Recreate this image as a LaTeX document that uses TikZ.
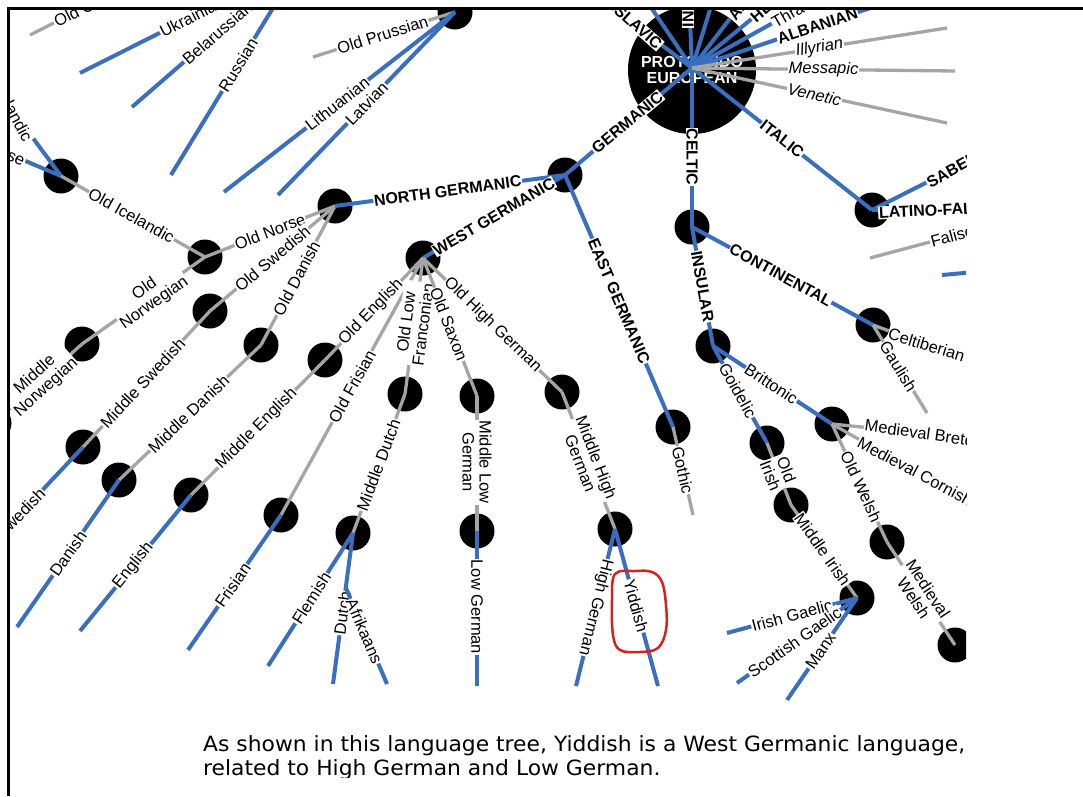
\documentclass[tikz,border=0pt]{standalone}
\usepackage{fontspec}
\setmainfont{Liberation Sans}
\newfontfamily\capfam{DejaVu Sans}
\definecolor{lnblue}{RGB}{58,110,190}
\definecolor{lngray}{RGB}{165,165,165}
\definecolor{loopred}{RGB}{210,35,35}
\newsavebox\capboxA
\newlength\capwA
\tikzset{
  dot/.style={circle,fill=black,minimum size=35pt,inner sep=0pt},
  bl/.style={draw=lnblue,line width=4pt},
  gl/.style={draw=lngray,line width=3.3pt},
  lab/.style={fill=white,inner sep=0.8pt,text=black,font=\fontsize{16.5}{17}\selectfont},
  blab/.style={fill=white,inner sep=0.8pt,text=black,font=\fontsize{16}{17}\selectfont\bfseries},
  ilab/.style={lab,font=\fontsize{16.5}{17}\selectfont\itshape},
  twol/.style={lab,align=center},
}
\begin{document}
\sbox\capboxA{\capfam\fontsize{21}{24}\selectfont As shown in this language tree, Yiddish is a West Germanic language,}
\setlength\capwA{\wd\capboxA}
\pgfmathsetmacro\capsx{762/\capwA}
\begin{tikzpicture}[x=1pt,y=-1pt]
\useasboundingbox (0,0) rectangle (1083,796);
\fill[white] (0,0) rectangle (1083,796);
\begin{scope}
\clip (9.5,9.5) rectangle (966,700);
% ---------- circles
\node[dot,minimum size=128pt,align=center,text=white,font=\fontsize{16}{16}\selectfont\bfseries] (pie) at (692,70) {PROTO-INDO\\EUROPEAN};
\coordinate (hub) at (692,68);
\node[dot] (balt) at (455,12) {};
\node[dot] (icel) at (61,176) {};
\node[dot] (onor) at (205,257) {};
\node[dot] (ng) at (335,206) {};
\node[dot] (ge) at (565,175) {};
\node[dot] (wg) at (423,258) {};
\node[dot] (got) at (673,427) {};
\node[dot] (cel) at (692,227) {};
\node[dot] (con) at (873,325) {};
\node[dot] (ins) at (713,346) {};
\node[dot] (bry) at (832,424) {};
\node[dot] (oir) at (767,443) {};
\node[dot] (mir) at (791,505) {};
\node[dot] (gae) at (857,598) {};
\node[dot] (mwe) at (887,542) {};
\node[dot] (wel) at (955,645) {};
\node[dot] (lat) at (872,210) {};
\node[dot] (mno) at (82,344) {};
\node[dot] (nor) at (-6,423) {};
\node[dot] (mse) at (210,311) {};
\node[dot] (swe) at (83,447) {};
\node[dot] (mda) at (261,345) {};
\node[dot] (dan) at (119,480) {};
\node[dot] (men) at (325,360) {};
\node[dot] (eng) at (191,495) {};
\node[dot] (fri) at (281,515) {};
\node[dot] (mdu) at (405,394) {};
\node[dot] (dut) at (353,533) {};
\node[dot] (mlg) at (477,396) {};
\node[dot] (lg) at (477,531) {};
\node[dot] (mhg) at (562,392) {};
\node[dot] (hg) at (615,529) {};
% ---------- free ends
\coordinate (ocsA) at (30,35);
\coordinate (ukA) at (80,73);
\coordinate (beA) at (132,107);
\coordinate (ruA) at (171,175);
\coordinate (ruB) at (276,3);
\coordinate (opA) at (313,57);
\coordinate (liA) at (224,192);
\coordinate (laA) at (278,195);
\coordinate (daA) at (17,627);
\coordinate (enA) at (80,631);
\coordinate (frA) at (188,650);
\coordinate (flA) at (268,666);
\coordinate (dtA) at (333,684);
\coordinate (afB) at (346,588);
\coordinate (afA) at (387,684);
\coordinate (lgA) at (477,686);
\coordinate (hgA) at (576,686);
\coordinate (yiA) at (658,686);
\coordinate (goA) at (693,515);
\coordinate (gaA) at (927,413);
\coordinate (igA) at (727,633);
\coordinate (sgA) at (737,683);
\coordinate (mxA) at (787,700);
\coordinate (faA) at (870,258);
\coordinate (osA) at (942,275);
\coordinate (osB) at (975,272);
\coordinate (slA) at (596,-5);
\coordinate (baA) at (646,0);
\coordinate (t1A) at (713,0);
\coordinate (alA) at (888,2);
\coordinate (ilA) at (947,28);
\coordinate (meA) at (955,71);
\coordinate (veA) at (947,123);
% ---------- Balto-Slavic
\node[lab,anchor=west,rotate=27] (ocs) at (54,23) {Old Church Slavonic};
\draw[gl] (ocsA) -- (ocs);
\node[lab,anchor=west,rotate=27] (ukr) at (160,33) {Ukrainian};
\draw[bl] (ukA) -- (ukr);
\node[lab,anchor=west,rotate=41] (bel) at (184,62) {Belarussian};
\draw[bl] (beA) -- (bel);
\draw[bl] (ruA) -- node[lab,pos=.64,rotate=58.6]{Russian} (ruB);
\draw[gl] (opA) -- node[lab,pos=.49,rotate=17.6]{Old Prussian} (balt.center);
\draw[bl] (liA) -- node[lab,pos=.49,rotate=38]{Lithuanian} (balt.center);
\draw[bl] (laA) -- node[lab,pos=.5,rotate=46]{Latvian} (balt.center);
% ---------- North Germanic
\node[lab,anchor=east,rotate=-62] (isl) at (29,141) {Icelandic};
\draw[bl] (isl) -- (icel.center);
\node[lab,anchor=east,rotate=-25] (far) at (25,162) {Faroese};
\draw[bl] (far) -- (icel.center);
\draw[gl] (icel.center) -- node[lab,pos=.49,rotate=-29]{Old Icelandic} (onor.center);
\draw[gl] (onor.center) -- node[lab,pos=.5,rotate=21]{Old Norse} (ng.center);
\draw[gl] (onor.center) -- node[twol,pos=.45,rotate=35]{Old\\Norwegian} (mno.center);
\draw[gl] (mno.center) -- node[twol,pos=.47,rotate=42]{Middle\\Norwegian} (nor.center);
\draw[gl] (ng.center) -- node[lab,pos=.5,rotate=40]{Old Swedish} (mse.center);
\draw[gl] (mse.center) -- node[lab,pos=.53,rotate=47]{Middle Swedish} (swe.center);
\node[lab,anchor=east,rotate=46] (swl) at (43,490) {Swedish};
\draw[bl] (swe.center) -- (swl);
\draw[gl] (ng.center) -- node[lab,pos=.52,rotate=62]{Old Danish} (mda.center);
\draw[gl] (mda.center) -- node[lab,pos=.51,rotate=43.6]{Middle Danish} (dan.center);
\draw[bl] (dan.center) -- node[lab,pos=.5,rotate=55]{Danish} (daA);
% ---------- Germanic
\draw[bl] (ng.center) -- node[blab,pos=.49,rotate=7.7]{NORTH GERMANIC} (ge.center);
\draw[bl] (wg.center) -- node[blab,pos=.5,rotate=30.3]{WEST GERMANIC} (ge.center);
\draw[bl] (ge.center) -- node[blab,pos=.49,rotate=39.9]{GERMANIC} (hub);
\draw[bl] (ge.center) -- node[blab,pos=.5,rotate=-66.8]{EAST GERMANIC} (got.center);
\draw[gl] (got.center) -- node[lab,pos=.49,rotate=-77]{Gothic} (goA);
% ---------- West Germanic
\draw[gl] (wg.center) -- node[lab,pos=.53,rotate=46]{Old English} (men.center);
\draw[gl] (men.center) -- node[lab,pos=.51,rotate=45]{Middle English} (eng.center);
\draw[bl] (eng.center) -- node[lab,pos=.52,rotate=51]{English} (enA);
\draw[gl] (wg.center) -- node[lab,pos=.5,rotate=61]{Old Frisian} (fri.center);
\draw[bl] (fri.center) -- node[lab,pos=.52,rotate=55]{Frisian} (frA);
\draw[gl] (wg.center) -- node[twol,pos=.48,rotate=82.5]{Old Low\\Franconian} (mdu.center);
\draw[gl] (mdu.center) -- node[lab,pos=.51,rotate=69.5]{Middle Dutch} (dut.center);
\draw[bl] (dut.center) -- node[lab,pos=.49,rotate=57.4]{Flemish} (flA);
\draw[bl] (dut.center) -- node[lab,pos=.53,rotate=82.4]{Dutch} (dtA);
\draw[bl] (afB) -- node[lab,pos=.45,rotate=-66.7]{Afrikaans} (afA);
\draw[gl] (wg.center) -- node[lab,pos=.48,rotate=-68.6]{Old Saxon} (mlg.center);
\draw[gl] (mlg.center) -- node[twol,pos=.49,rotate=-90]{Middle Low\\German} (lg.center);
\draw[bl] (lg.center) -- node[lab,pos=.49,rotate=-90]{Low German} (lgA);
\draw[gl] (wg.center) -- node[lab,pos=.5,rotate=-44]{Old High German} (mhg.center);
\draw[gl] (mhg.center) -- node[twol,pos=.5,rotate=-68.9]{Middle High\\German} (hg.center);
\draw[bl] (hg.center) -- node[lab,pos=.5,rotate=-104]{High German} (hgA);
\draw[bl] (hg.center) -- node[lab,pos=.49,rotate=-74.6]{Yiddish} (yiA);
% ---------- Celtic
\draw[bl] (hub) -- node[blab,pos=.56,rotate=-90]{CELTIC} (cel.center);
\draw[bl] (cel.center) -- node[blab,pos=.49,rotate=-28.4]{CONTINENTAL} (con.center);
\draw[bl] (cel.center) -- node[blab,pos=.5,rotate=-80]{INSULAR} (ins.center);
\node[lab,anchor=west,rotate=-17] (ctb) at (888,333) {Celtiberian};
\draw[gl] (con.center) -- (ctb);
\draw[gl] (con.center) -- node[lab,pos=.47,rotate=-58.5]{Gaulish} (gaA);
\draw[bl] (ins.center) -- node[lab,pos=.49,rotate=-33.2]{Brittonic} (bry.center);
\draw[bl] (ins.center) -- node[lab,pos=.46,rotate=-60.9]{Goidelic} (oir.center);
\draw[gl] (oir.center) -- node[twol,pos=.48,rotate=-68.8]{Old\\Irish} (mir.center);
\draw[gl] (mir.center) -- node[lab,pos=.48,rotate=-54.6]{Middle Irish} (gae.center);
\draw[bl] (igA) -- node[lab,pos=.5,rotate=15]{Irish Gaelic} (gae.center);
\draw[bl] (sgA) -- node[lab,pos=.48,rotate=35.3]{Scottish Gaelic} (gae.center);
\draw[bl] (mxA) -- node[lab,pos=.48,rotate=55.5]{Manx} (gae.center);
\node[lab,anchor=west,rotate=-28] (mco) at (858,441) {Medieval Cornish};
\draw[gl] (bry.center) -- (mco);
\node[lab,anchor=west,rotate=-8] (mbr) at (864,425) {Medieval Breton};
\draw[gl] (bry.center) -- (mbr);
\draw[gl] (bry.center) -- node[lab,pos=.53,rotate=-65]{Old Welsh} (mwe.center);
\draw[gl] (mwe.center) -- node[twol,pos=.5,rotate=-56.6]{Medieval\\Welsh} (wel.center);
% ---------- Italic
\draw[bl] (hub) -- node[blab,pos=.5,rotate=-38.3]{ITALIC} (lat.center);
\node[blab,anchor=west,rotate=29] (sab) at (927,184) {SABELLIC};
\draw[bl] (lat.center) -- (sab);
\node[blab,anchor=west,rotate=3] (lfa) at (878,213) {LATINO-FALISCAN};
\draw[bl] (lat.center) -- (lfa);
\node[lab,anchor=west,rotate=15] (fal) at (930,242) {Faliscan};
\draw[gl] (faA) -- (fal);
\draw[bl] (osA) -- (osB);
% ---------- PIE top branches
\draw[bl] (hub) -- (baA);
\draw[bl] (hub) -- node[blab,pos=.56,rotate=-41.5]{SLAVIC} (slA);
\node[blab,anchor=west,rotate=90] (iir) at (688,28) {INDO-IRANIAN};
\draw[bl] (hub) -- (iir);
\draw[bl] (hub) -- (t1A);
\node[blab,anchor=west,rotate=54] (arm) at (731,19) {ARMENIAN};
\draw[bl] (hub) -- (arm);
\node[blab,anchor=west,rotate=41] (hel) at (752,20) {HELLENIC};
\draw[bl] (hub) -- (hel);
\node[lab,anchor=west,rotate=30] (thr) at (772,24) {Thracian};
\draw[bl] (hub) -- (thr);
\draw[bl] (hub) -- node[blab,pos=.64,rotate=18.6]{ALBANIAN} (alA);
\draw[gl] (hub) -- node[ilab,pos=.5,rotate=8.9]{Illyrian} (ilA);
\draw[gl] (hub) -- node[ilab,pos=.5,rotate=-0.6]{Messapic} (meA);
\draw[gl] (hub) -- node[ilab,pos=.48,rotate=-12.2]{Venetic} (veA);
% ---------- red hand-drawn loop
\draw[loopred,line width=2.5pt] plot[smooth cycle,tension=0.6] coordinates
  {(615,574) (635,571) (652,572) (662,582) (666,605) (666,630) (658,648) (640,652) (620,650) (613,635) (612,600)};
\end{scope}
% ---------- caption
\node[anchor=base west,inner sep=0pt] (cap1) at (203,751) {\scalebox{\capsx}[1]{\usebox\capboxA}};
\begin{scope}
\clip (150,740) rectangle (1000,777);
\node[anchor=base west,inner sep=0pt] (cap2) at (203,775) {\scalebox{\capsx}[1]{\capfam\fontsize{21}{24}\selectfont related to High German and Low German.}};
\end{scope}
% ---------- frame
\draw[line width=2.5pt] (8.5,796) -- (8.5,8.5) -- (1083,8.5);
\end{tikzpicture}
\end{document}
